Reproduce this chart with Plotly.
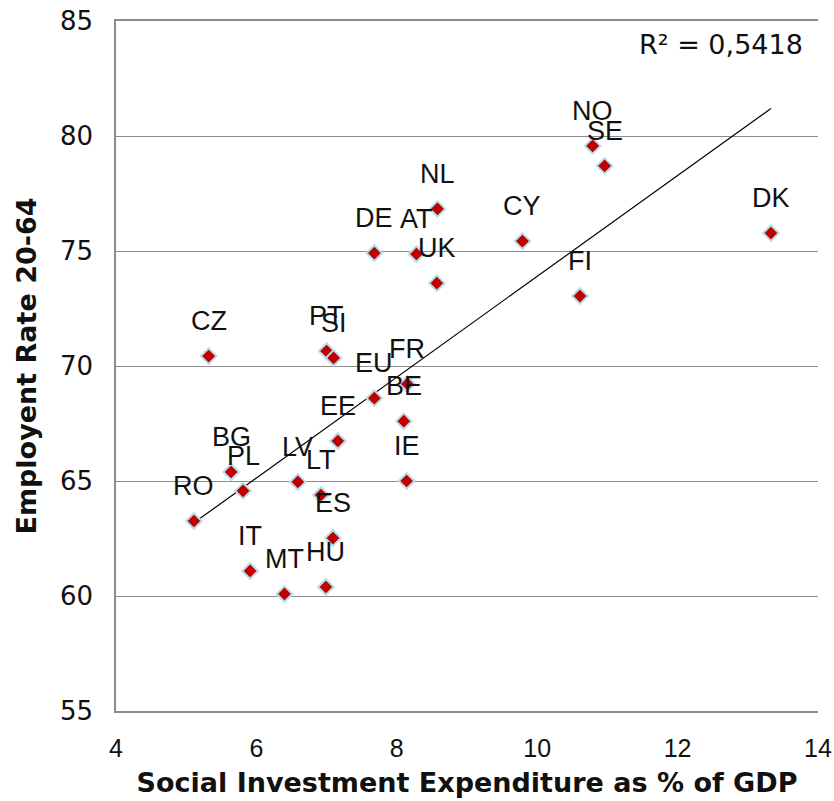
import numpy as np
import plotly.graph_objects as go

countries = ["CZ", "PT", "SI", "EU", "FR", "BE", "IE", "EE", "BG", "PL", "RO", "LV", "LT",
             "ES", "IT", "MT", "HU", "NL", "DE", "AT", "UK", "NO", "SE", "CY", "DK", "FI"]
spending = [5.32, 7.00, 7.10, 7.68, 8.15, 8.10, 8.14, 7.16, 5.64, 5.81, 5.11, 6.59, 6.92,
            7.09, 5.91, 6.40, 6.99, 8.58, 7.68, 8.28, 8.57, 10.79, 10.96, 9.79, 13.33, 10.61]
employment = [70.43, 70.65, 70.35, 68.60, 69.22, 67.60, 65.00, 66.74, 65.39, 64.57, 63.26, 64.96, 64.39,
              62.52, 61.09, 60.09, 60.39, 76.83, 74.91, 74.87, 73.60, 79.57, 78.70, 75.43, 75.78, 73.04]
r2_label = "R² = 0,5418"
x_ticks = [4, 6, 8, 10, 12, 14]
y_ticks = [55, 60, 65, 70, 75, 80, 85]

x = np.array(spending)
y = np.array(employment)
slope, intercept = np.polyfit(x, y, 1)
tx = np.array([x.min(), x.max()])
ty = slope * tx + intercept

fig = go.Figure()
fig.add_trace(go.Scatter(x=tx, y=ty, mode="lines", line=dict(color="black", width=1.2),
                         hoverinfo="skip", showlegend=False, cliponaxis=False))
fig.add_trace(go.Scatter(x=spending, y=employment, mode="markers",
                         marker=dict(symbol="diamond", size=12, color="#C00000",
                                     line=dict(color="#B7DEE8", width=2)),
                         showlegend=False, cliponaxis=False))

for c, xv, yv in zip(countries, spending, employment):
    fig.add_annotation(x=xv, y=yv, text=c, showarrow=False, xref="x", yref="y",
                       yanchor="middle", yshift=35,
                       font=dict(family="Liberation Sans, Arial", size=27, color="#111111"))

fig.add_annotation(x=1, y=1, xref="paper", yref="paper", text=r2_label, showarrow=False,
                   xanchor="right", yanchor="top", xshift=-13, yshift=-6,
                   font=dict(family="DejaVu Sans, Verdana", size=27, color="#111111"))

fig.update_layout(
    width=834, height=801,
    margin=dict(l=116, r=16, t=21, b=90),
    plot_bgcolor="white", paper_bgcolor="white",
    xaxis=dict(range=[4, 14], tickvals=x_ticks, showgrid=False, zeroline=False, automargin=False,
               showline=True, mirror=True, linecolor="#8C8C8C", linewidth=1.5, ticks="",
               ticklabelstandoff=14, ticklabeloverflow="allow",
               tickfont=dict(family="Liberation Sans Narrow, Liberation Sans", size=25, color="#111111"),
               title=dict(text="<b>Social Investment Expenditure as % of GDP</b>",
                          font=dict(family="DejaVu Sans", size=27, color="#111111"), standoff=12)),
    yaxis=dict(range=[55, 85], tickvals=y_ticks, showgrid=True, gridcolor="#8C8C8C", gridwidth=1.2,
               zeroline=False, showline=True, linecolor="#8C8C8C", linewidth=1.5, ticks="", automargin=False,
               ticklabelstandoff=16, ticklabeloverflow="allow",
               tickfont=dict(family="DejaVu Sans, Verdana", size=26, color="#111111"),
               title=dict(text="<b>Employent Rate 20-64</b>",
                          font=dict(family="DejaVu Sans", size=27, color="#111111"), standoff=16)),
)

fig.write_html("out.html", config={"displayModeBar": False},
               post_script="document.body.style.margin='0';")
